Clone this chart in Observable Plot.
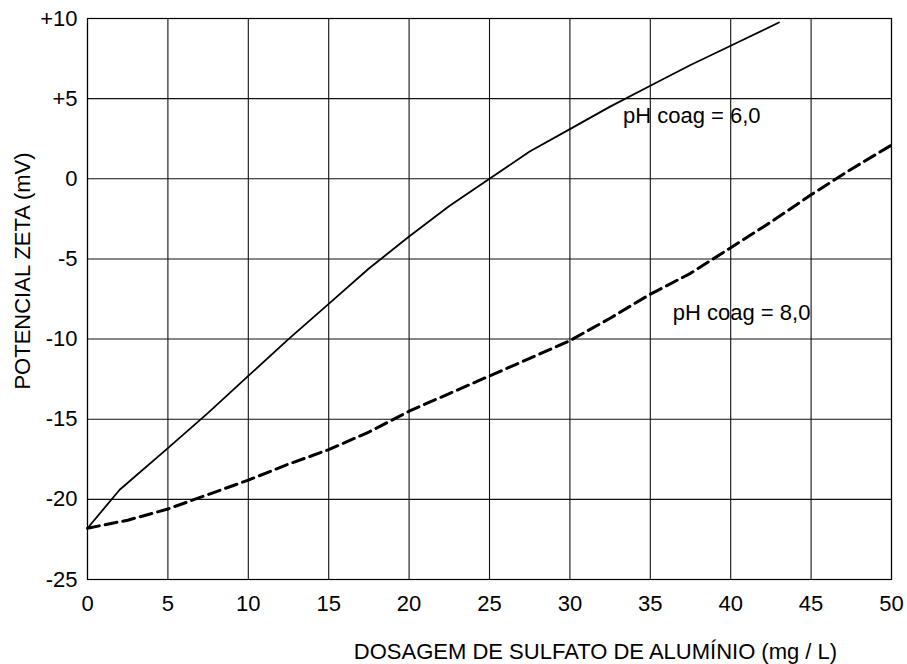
<!DOCTYPE html>
<html>
<head>
<meta charset="utf-8">
<script src="https://cdn.jsdelivr.net/npm/d3@7"></script>
<script src="https://cdn.jsdelivr.net/npm/@observablehq/plot@0.6"></script>
<style>
  html, body { margin: 0; padding: 0; background: #fff; }
  #chart svg { display: block; }
  #chart svg [aria-label^="x-axis"] text,
  #chart svg [aria-label^="y-axis"] text { font-size: 22px !important; }
</style>
</head>
<body>
<div id="chart"></div>
<script>
// pH coag = 6,0 (solid)
const ph6X = [0, 2, 5, 7.5, 10, 12.5, 15, 17.5, 20, 22.5, 25, 27.5, 30, 32.5, 35, 37.5, 40, 43];
const ph6Y = [-21.8, -19.4, -16.8, -14.6, -12.3, -10.0, -7.8, -5.6, -3.6, -1.7, 0.0, 1.7, 3.1, 4.5, 5.8, 7.1, 8.3, 9.75];
// pH coag = 8,0 (dashed)
const ph8X = [0, 2.5, 5, 7.5, 10, 12.5, 15, 17.5, 20, 22.5, 25, 27.5, 30, 32.5, 35, 37.5, 40, 42.5, 45, 47.5, 50];
const ph8Y = [-21.8, -21.3, -20.6, -19.7, -18.8, -17.8, -16.9, -15.8, -14.5, -13.4, -12.3, -11.2, -10.1, -8.7, -7.2, -5.9, -4.3, -2.7, -1.0, 0.6, 2.1];

const xTicks = [0, 5, 10, 15, 20, 25, 30, 35, 40, 45, 50];
const yTicks = [-25, -20, -15, -10, -5, 0, 5, 10];

const labelText = ["pH coag = 6,0", "pH coag = 8,0"];
const labelX = [33.3, 36.4];
const labelY = [3.9, -8.35];

const xTitle = "DOSAGEM DE SULFATO DE ALUMÍNIO (mg / L)";
const yTitle = "POTENCIAL ZETA (mV)";

const ph6 = ph6X.map((x, i) => ({x, y: ph6Y[i]}));
const ph8 = ph8X.map((x, i) => ({x, y: ph8Y[i]}));
const labels = labelText.map((t, i) => ({t, x: labelX[i], y: labelY[i]}));

const font = "'Liberation Sans', Arial, sans-serif";

const chart = Plot.plot({
  width: 907,
  height: 664,
  marginLeft: 87,
  marginRight: 16,
  marginTop: 18,
  marginBottom: 85,
  style: {fontFamily: font, fontSize: "22px", color: "#000", background: "#fff"},
  x: {domain: [0, 50]},
  y: {domain: [-25, 10]},
  marks: [
    Plot.gridX(xTicks, {stroke: "#111", strokeOpacity: 1, strokeWidth: 1.1}),
    Plot.gridY(yTicks, {stroke: "#111", strokeOpacity: 1, strokeWidth: 1.1}),
    Plot.frame({stroke: "#000", strokeWidth: 1.2}),
    Plot.axisX(xTicks, {tickSize: 0, tickPadding: 16, label: null, fontSize: 22, tickFormat: d => String(d)}),
    Plot.axisY(yTicks, {tickSize: 0, tickPadding: 10, label: null, fontSize: 22, tickFormat: d => d > 0 ? "+" + d : String(d)}),
    Plot.line(ph6, {x: "x", y: "y", stroke: "#000", strokeWidth: 1.8}),
    Plot.line(ph8, {x: "x", y: "y", stroke: "#000", strokeWidth: 3, strokeDasharray: "12,6"}),
    Plot.text(labels, {x: "x", y: "y", text: "t", textAnchor: "start", fontSize: 22, fill: "#000"}),
    Plot.text([xTitle], {frameAnchor: "bottom", dx: 106, dy: 72, fontSize: 22, fill: "#000", textAnchor: "middle", lineAnchor: "middle"}),
    Plot.text([yTitle], {frameAnchor: "left", rotate: -90, dx: -65, dy: -28, fontSize: 22, fill: "#000", textAnchor: "middle", lineAnchor: "middle"})
  ]
});
document.getElementById("chart").appendChild(chart);
</script>
</body>
</html>
